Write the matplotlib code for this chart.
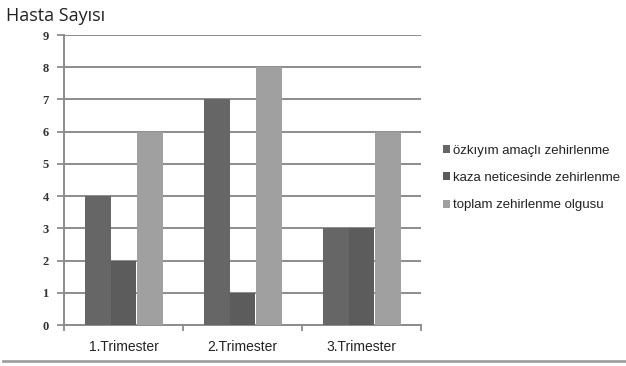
import numpy as np
import matplotlib.pyplot as plt
from matplotlib.lines import Line2D

categories = ["1.Trimester", "2.Trimester", "3.Trimester"]
series_names = ["özkıyım amaçlı zehirlenme",
                "kaza neticesinde zehirlenme",
                "toplam zehirlenme olgusu"]
ozkiyim = [4, 7, 3]
kaza = [2, 1, 3]
toplam = [6, 8, 6]
y_ticks = list(range(0, 10))

colors = ["#666666", "#5c5c5c", "#a0a0a0"]

fig = plt.figure(figsize=(6.26, 3.66), dpi=100)
ax = fig.add_axes([64 / 626, 41 / 366, 357 / 626, 290 / 366])

x = np.arange(len(categories)) + 0.5
w = 0.218
offsets = [-0.218, 0.0, 0.226]
for vals, off, col, name in zip([ozkiyim, kaza, toplam], offsets, colors, series_names):
    ax.bar(x + off, vals, width=w, color=col, label=name, zorder=3, linewidth=0)

ax.set_xlim(0, 3)
ax.set_ylim(0, 9)
ax.set_yticks(y_ticks)
ax.set_yticklabels([str(v) for v in y_ticks], family="Liberation Serif",
                   fontweight="bold", fontsize=9, color="#333333")
ax.yaxis.grid(True, color="#8c8c8c", linewidth=1.4, zorder=0)
ax.set_axisbelow(True)

# category labels between tick marks at group boundaries
ax.set_xticks([0, 1, 2, 3])
ax.set_xticklabels([])
ax.set_xticks(x, minor=True)
ax.set_xticklabels(categories, minor=True, family="Liberation Sans",
                   fontsize=10, color="#222222")
ax.tick_params(axis="x", which="minor", length=0, pad=11)
ax.tick_params(axis="x", which="major", length=4, width=1.3, color="#8c8c8c")
ax.tick_params(axis="y", length=5, width=1.3, color="#8c8c8c", pad=6)

for s in ["top", "right"]:
    ax.spines[s].set_visible(False)
for s in ["left", "bottom"]:
    ax.spines[s].set_color("#8c8c8c")
    ax.spines[s].set_linewidth(1.4)

leg = fig.legend(loc="upper left", bbox_to_anchor=(431 / 626, 1 - 133 / 366),
                 frameon=False, handlelength=0.55, handleheight=0.55,
                 handletextpad=0.25, labelspacing=1.15,
                 prop={"family": "Liberation Sans", "size": 9.5})
for t in leg.get_texts():
    t.set_color("#222222")

fig.text(6 / 626, 1 - 21 / 366, "Hasta Sayısı", family="Open Sans",
         fontsize=13, color="#222222", va="baseline")

fig.add_artist(Line2D([3 / 626, 1.0], [1 - 361 / 366] * 2,
                      color="#a0a0a0", linewidth=2, transform=fig.transFigure))

fig.savefig("out.png", dpi=100, facecolor="white")
